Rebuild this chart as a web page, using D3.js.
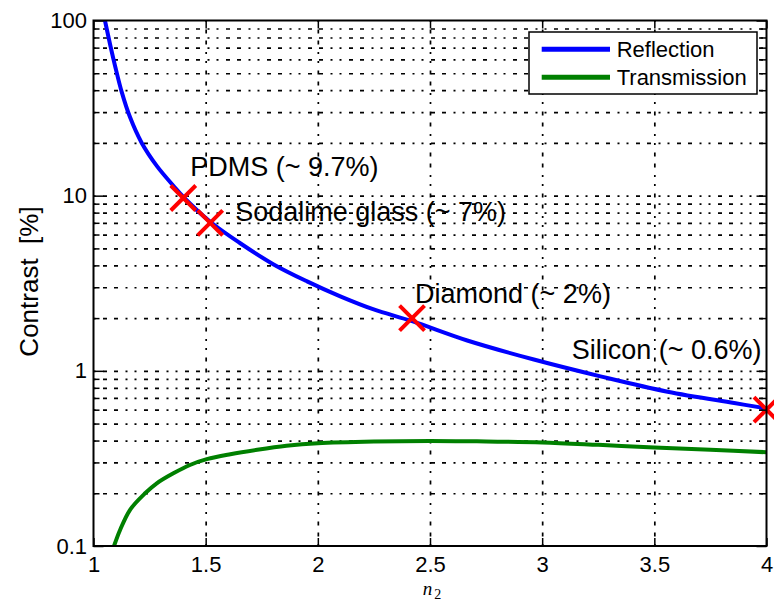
<!DOCTYPE html>
<html>
<head>
<meta charset="utf-8">
<script src="https://cdn.jsdelivr.net/npm/d3@7"></script>
<style>
  html, body { margin: 0; padding: 0; background: #fff; }
  svg { display: block; font-family: "Liberation Sans", Arial, Helvetica, sans-serif; }
</style>
</head>
<body>
<svg id="chart" width="774" height="602"></svg>
<script>
// Reflection contrast versus refractive index n2
const reflectionN = [1.051, 1.075, 1.097, 1.126, 1.163, 1.215, 1.282, 1.356, 1.405, 1.523, 1.654, 1.803, 1.952, 2.100, 2.249, 2.420, 2.666, 2.963, 3.260, 3.559, 3.856, 4.000];
const reflectionContrast = [100, 72, 54.5, 39, 28, 20, 14.8, 11.4, 9.7, 7.05, 5.35, 4.05, 3.24, 2.66, 2.24, 1.92, 1.49, 1.16, 0.93, 0.76, 0.655, 0.61];

// Transmission contrast versus refractive index n2
const transmissionN = [1.0915, 1.118, 1.163, 1.23, 1.282, 1.356, 1.43, 1.505, 1.61, 1.73, 1.86, 2.0, 2.25, 2.5, 2.75, 3.0, 3.25, 3.5, 3.75, 4.0];
const transmissionContrast = [0.1, 0.123, 0.161, 0.2, 0.228, 0.26, 0.29, 0.313, 0.334, 0.354, 0.373, 0.386, 0.395, 0.398, 0.395, 0.39, 0.378, 0.365, 0.354, 0.343];

// Highlighted materials
const materialNames = ["PDMS", "Sodalime glass", "Diamond", "Silicon"];
const materialN = [1.4, 1.52, 2.42, 4.0];
const materialContrast = [9.7, 7, 2, 0.6];
const materialLabels = ["PDMS (~ 9.7%)", "Sodalime glass (~ 7%)", "Diamond (~ 2%)", "Silicon (~ 0.6%)"];

// Axes
const xTicks = [1, 1.5, 2, 2.5, 3, 3.5, 4];
const xTickLabels = ["1", "1.5", "2", "2.5", "3", "3.5", "4"];
const yMajorTicks = [0.1, 1, 10, 100];
const yTickLabels = ["0.1", "1", "10", "100"];
const yMinorTicks = [0.2, 0.3, 0.4, 0.5, 0.6, 0.7, 0.8, 0.9, 2, 3, 4, 5, 6, 7, 8, 9, 20, 30, 40, 50, 60, 70, 80, 90];
const seriesNames = ["Reflection", "Transmission"];

// ---- layout ----
const plot = { left: 93.5, right: 766.5, top: 20.5, bottom: 546 };
const colors = { Reflection: "#0000ff", Transmission: "#008000", marker: "#ff0000" };
// label placement relative to each material marker: [dx, dy, anchor]
const labelPlacement = [[7, -22, "start"], [25, -2, "start"], [3, -15, "start"], [-5, -51, "end"]];

const svg = d3.select("#chart");
const x = d3.scaleLinear().domain([1, 4]).range([plot.left, plot.right]);
const y = d3.scaleLog().domain([0.1, 100]).range([plot.bottom, plot.top]);
const W = plot.right - plot.left, H = plot.bottom - plot.top;

svg.append("defs").append("clipPath").attr("id", "plotClip")
  .append("rect").attr("x", plot.left).attr("y", plot.top).attr("width", W).attr("height", H);

// ---- grid ----
const gridDash = "2 7.5 4 7 4 7.5 2 7";
const yGridValues = yMinorTicks.concat([1, 10]);
const gridY = svg.append("g").attr("transform", `translate(${plot.left},0)`)
  .call(d3.axisLeft(y).tickValues(yGridValues).tickSize(-W).tickSizeOuter(0).tickFormat(""));
const gridX = svg.append("g").attr("transform", `translate(0,${plot.bottom})`)
  .call(d3.axisBottom(x).tickValues(xTicks.slice(1, -1)).tickSize(-H).tickSizeOuter(0).tickFormat(""));
[gridY, gridX].forEach(g => {
  g.select(".domain").remove();
  g.selectAll("line").attr("stroke", "#000").attr("stroke-width", 1.7).attr("stroke-dasharray", gridDash);
});

// ---- curves ----
const line = d3.line().x(d => x(d[0])).y(d => y(d[1])).curve(d3.curveCatmullRom.alpha(0.5));
const curves = svg.append("g").attr("clip-path", "url(#plotClip)");
curves.append("path")
  .datum(reflectionN.map((n, i) => [n, reflectionContrast[i]]))
  .attr("d", line).attr("fill", "none")
  .attr("stroke", colors.Reflection).attr("stroke-width", 4).attr("stroke-linejoin", "round");
curves.append("path")
  .datum(transmissionN.map((n, i) => [n, transmissionContrast[i]]))
  .attr("d", line).attr("fill", "none")
  .attr("stroke", colors.Transmission).attr("stroke-width", 4).attr("stroke-linejoin", "round");

// ---- material markers and labels ----
const materials = materialNames.map((name, i) => ({
  name, n: materialN[i], c: materialContrast[i], label: materialLabels[i], place: labelPlacement[i]
}));
const mk = 12.5;
svg.append("g").selectAll("path").data(materials).join("path")
  .attr("transform", d => `translate(${x(d.n)},${y(d.c)})`)
  .attr("d", `M${-mk},${-mk}L${mk},${mk}M${-mk},${mk}L${mk},${-mk}`)
  .attr("stroke", colors.marker).attr("stroke-width", 4).attr("fill", "none");
svg.append("g").selectAll("text").data(materials).join("text")
  .attr("x", d => x(d.n) + d.place[0])
  .attr("y", d => y(d.c) + d.place[1])
  .attr("text-anchor", d => d.place[2])
  .attr("font-size", 27).attr("fill", "#000")
  .text(d => d.label);

// ---- frame and ticks ----
function styleTicks(g) {
  g.select(".domain").remove();
  g.selectAll("line").attr("stroke", "#000").attr("stroke-width", 1.5);
  g.selectAll("text").attr("font-size", 22).attr("fill", "#000")
    .attr("font-family", "'Liberation Sans', Arial, sans-serif");
}
svg.append("g").attr("transform", `translate(${plot.left},0)`)
  .call(d3.axisLeft(y).tickValues(yMajorTicks).tickSize(-10).tickSizeOuter(0).tickPadding(6.5)
    .tickFormat((d, i) => yTickLabels[i]))
  .call(styleTicks);
svg.append("g").attr("transform", `translate(${plot.left},0)`)
  .call(d3.axisLeft(y).tickValues(yMinorTicks).tickSize(-6).tickSizeOuter(0).tickFormat(""))
  .call(styleTicks);
svg.append("g").attr("transform", `translate(${plot.right},0)`)
  .call(d3.axisRight(y).tickValues(yMajorTicks).tickSize(-10).tickSizeOuter(0).tickFormat(""))
  .call(styleTicks);
svg.append("g").attr("transform", `translate(${plot.right},0)`)
  .call(d3.axisRight(y).tickValues(yMinorTicks).tickSize(-6).tickSizeOuter(0).tickFormat(""))
  .call(styleTicks);
svg.append("g").attr("transform", `translate(0,${plot.bottom})`)
  .call(d3.axisBottom(x).tickValues(xTicks).tickSize(-8).tickSizeOuter(0).tickPadding(10)
    .tickFormat((d, i) => xTickLabels[i]))
  .call(styleTicks);
svg.append("g").attr("transform", `translate(0,${plot.top})`)
  .call(d3.axisTop(x).tickValues(xTicks).tickSize(-8).tickSizeOuter(0).tickFormat(""))
  .call(styleTicks);

svg.append("rect")
  .attr("x", plot.left).attr("y", plot.top).attr("width", W).attr("height", H)
  .attr("fill", "none").attr("stroke", "#000").attr("stroke-width", 2);

// ---- axis titles ----
const xTitle = svg.append("text")
  .attr("x", x(2.5) + 2).attr("y", 595)
  .attr("text-anchor", "middle").attr("font-family", "'Liberation Serif', 'Times New Roman', serif").attr("fill", "#000");
xTitle.append("tspan").attr("font-style", "italic").attr("font-size", 19).text("n");
xTitle.append("tspan").attr("font-size", 14).attr("dx", 2).attr("dy", 3.5).text("2");

svg.append("text")
  .attr("transform", "translate(37.7,281.5) rotate(-90)")
  .attr("text-anchor", "middle").attr("font-size", 26).attr("fill", "#000")
  .text("Contrast\u00a0\u00a0[%]");

// ---- legend ----
const legend = svg.append("g").attr("transform", "translate(529,32)");
legend.append("rect").attr("width", 228).attr("height", 62)
  .attr("fill", "#fff").attr("stroke", "#000").attr("stroke-width", 1.5);
seriesNames.forEach((name, i) => {
  const ly = 17.3 + i * 28;
  legend.append("line").attr("x1", 12.7).attr("x2", 81).attr("y1", ly).attr("y2", ly)
    .attr("stroke", colors[name]).attr("stroke-width", 5);
  legend.append("text").attr("x", 87.7).attr("y", ly + 7.5)
    .attr("font-size", 22).attr("fill", "#000").text(name);
});
</script>
</body>
</html>
